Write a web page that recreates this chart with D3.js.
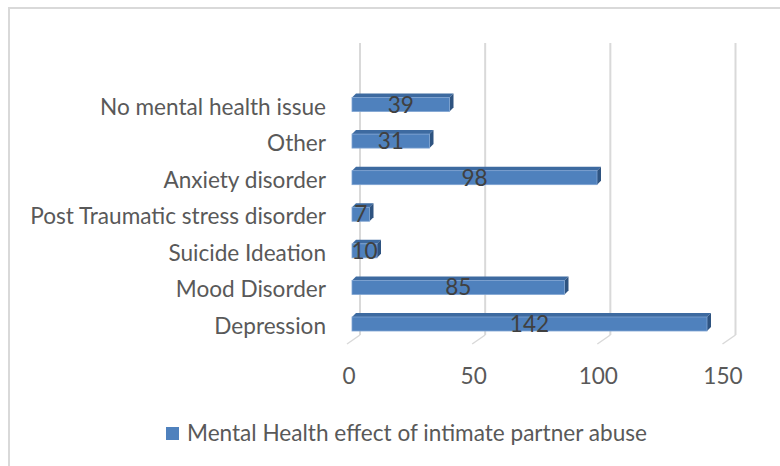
<!DOCTYPE html>
<html><head><meta charset="utf-8">
<script src="https://cdn.jsdelivr.net/npm/d3@7"></script>
<style>html,body{margin:0;padding:0;background:#fff;}svg{display:block;}</style>
</head><body>
<svg id="c" width="780" height="466"></svg>
<script>
const categories = ["Depression","Mood Disorder","Suicide Ideation","Post Traumatic stress disorder","Anxiety disorder","Other","No mental health issue"];
const values = [142,85,10,7,98,31,39];
const tickValues = [0,50,100,150];
const seriesName = "Mental Health effect of intimate partner abuse";

const svg = d3.select("#c");
const FONT = "Lato, 'Open Sans', sans-serif";
const FS = 22.6;

// chart border (top & left visible)
svg.append("path").attr("d","M9,466 V8 H780").attr("fill","none").attr("stroke","#d9d9d9").attr("stroke-width",2);

const xFront = d3.scaleLinear().domain([0,150]).range([352,727]);
const xBack = d3.scaleLinear().domain([0,150]).range([360,735.5]);
const xTick = d3.scaleLinear().domain([0,150]).range([349,723]);
const y = d3.scalePoint().domain(categories).range([324,104.5]);

const wallTop = 43, wallBottom = 335, floorDx = -13, floorDy = 9;
const g = svg.append("g");
tickValues.forEach(t => {
  const xb = xBack(t);
  g.append("line").attr("x1",xb).attr("x2",xb).attr("y1",wallTop).attr("y2",wallBottom)
    .attr("stroke","#d9d9d9").attr("stroke-width",2);
  g.append("line").attr("x1",xb).attr("y1",wallBottom).attr("x2",xb+floorDx).attr("y2",wallBottom+floorDy)
    .attr("stroke","#d9d9d9").attr("stroke-width",1.5);
});

// tick labels
svg.append("g").selectAll("text").data(tickValues).join("text")
  .attr("x",d=>xTick(d)).attr("y",384).attr("text-anchor","middle")
  .attr("font-family",FONT).attr("font-size",FS).attr("fill","#595959").text(d=>d);

// bars
const h = 14, dx = 4, dy = -4;
const bars = svg.append("g").selectAll("g").data(categories.map((c,i)=>({c,v:values[i]}))).join("g");
bars.each(function(d){
  const s = d3.select(this);
  const x0 = xFront(0), x1 = xFront(d.v), yc = y(d.c), yt = yc - h/2, yb = yc + h/2;
  s.append("path").attr("d",`M${x0},${yt} L${x0+dx},${yt+dy} L${x1+dx},${yt+dy} L${x1},${yt} Z`)
    .attr("fill","#3d6aa0");
  s.append("path").attr("d",`M${x1},${yt} L${x1+dx},${yt+dy} L${x1+dx},${yb+dy} L${x1},${yb} Z`)
    .attr("fill","#2e5380");
  s.append("rect").attr("x",x0).attr("y",yt).attr("width",x1-x0).attr("height",h)
    .attr("fill","#4f81bd").attr("stroke","#7ea3d2").attr("stroke-width",0.8);
  s.append("text").attr("x",(x0+x1)/2).attr("y",yc+8).attr("text-anchor","middle")
    .attr("font-family",FONT).attr("font-size",FS).attr("fill","#404040").text(d.v);
});

// category labels
svg.append("g").selectAll("text").data(categories).join("text")
  .attr("x",326).attr("y",d=>y(d)+10).attr("text-anchor","end")
  .attr("font-family",FONT).attr("font-size",FS).attr("fill","#595959").text(d=>d);

// legend
svg.append("rect").attr("x",166).attr("y",427).attr("width",13).attr("height",13).attr("fill","#4f81bd");
svg.append("text").attr("x",187).attr("y",441).attr("font-family",FONT).attr("font-size",FS)
  .attr("fill","#595959").text(seriesName);
</script>
</body></html>
